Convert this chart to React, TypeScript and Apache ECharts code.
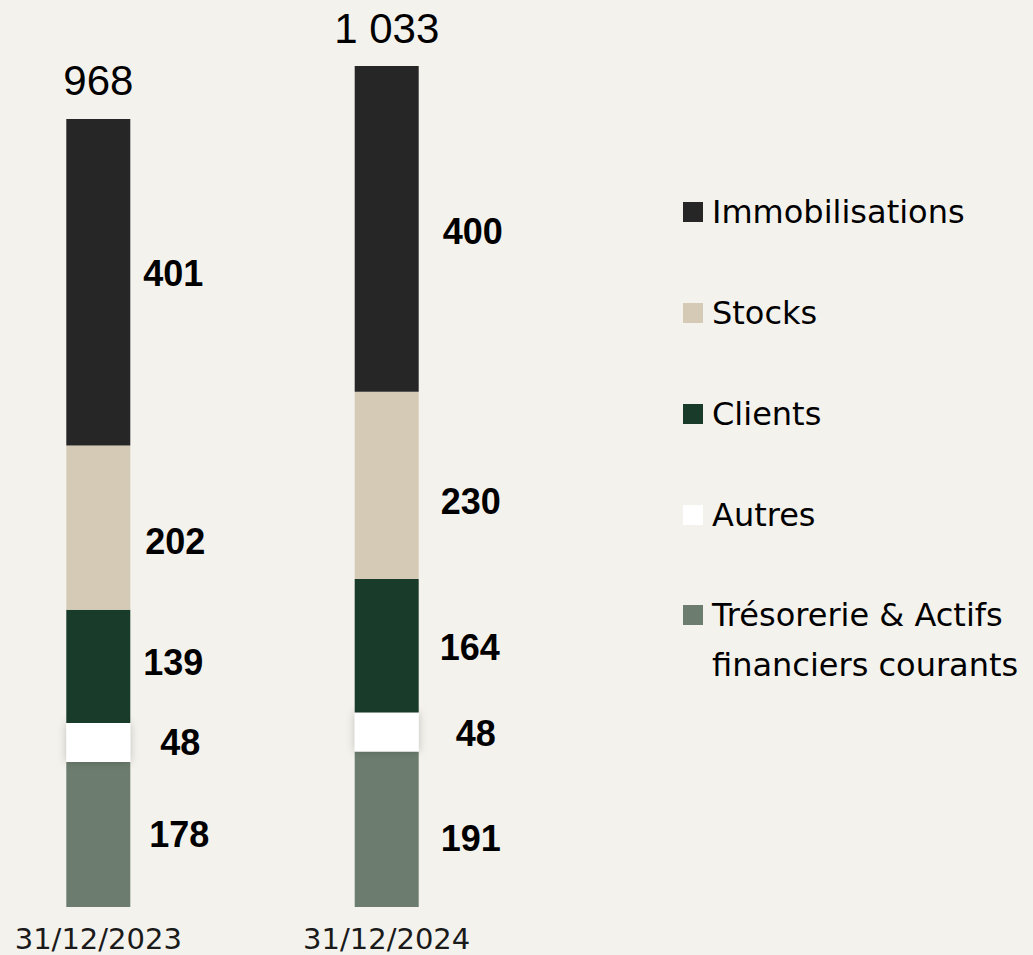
import React, { useEffect, useRef } from "react";
import * as echarts from "echarts";

const categories = ["31/12/2023", "31/12/2024"];
const seriesNames = [
  "Immobilisations",
  "Stocks",
  "Clients",
  "Autres",
  "Trésorerie & Actifs financiers courants",
];
const immobilisations = [401, 400];
const stocks = [202, 230];
const clients = [139, 164];
const autres = [48, 48];
const tresorerie = [178, 191];

// stacking order: bottom to top
const stackOrder = [tresorerie, autres, clients, stocks, immobilisations];
const stackNames = [seriesNames[4], seriesNames[3], seriesNames[2], seriesNames[1], seriesNames[0]];
const colors: Record<string, string> = {
  [seriesNames[0]]: "#262626",
  [seriesNames[1]]: "#D4CAB6",
  [seriesNames[2]]: "#193B29",
  [seriesNames[3]]: "#FFFFFF",
  [seriesNames[4]]: "#6C7D6F",
};
// label nudges (style only): [bar1, bar2]
const labelDx: Record<string, number[]> = {
  [seriesNames[0]]: [107, 118],
  [seriesNames[1]]: [109, 116],
  [seriesNames[2]]: [107, 115],
  [seriesNames[3]]: [114, 121],
  [seriesNames[4]]: [113, 116],
};
const labelDy: Record<string, number[]> = {
  [seriesNames[0]]: [-9, 3],
  [seriesNames[1]]: [14, 16],
  [seriesNames[2]]: [-4, 2],
  [seriesNames[3]]: [0, 2],
  [seriesNames[4]]: [0, 9],
};

const totals = categories.map((_, i) => stackOrder.reduce((s, arr) => s + arr[i], 0));
const fmt = (n: number) =>
  n >= 1000 ? `${Math.floor(n / 1000)} ${String(n % 1000).padStart(3, "0")}` : String(n);

export default function App() {
  const ref = useRef<HTMLDivElement>(null);
  useEffect(() => {
    if (!ref.current) return;
    const chart = echarts.init(ref.current, null, { renderer: "svg" });
    const barSeries = stackOrder.map((arr, si) => {
      const name = stackNames[si];
      return {
        name,
        type: "bar",
        stack: "total",
        barWidth: 64,
        itemStyle: {
          color: colors[name],
          ...(name === seriesNames[3]
            ? { shadowBlur: 8, shadowColor: "rgba(0,0,0,0.22)" }
            : {}),
        },
        data: arr.map((v, i) => ({
          value: v,
          label: {
            position: [labelDx[name][i], "50%"],
            offset: [0, labelDy[name][i]],
          },
        })),
        label: {
          show: true,
          align: "center",
          verticalAlign: "middle",
          fontFamily: "Liberation Sans, Arial, sans-serif",
          fontWeight: "bold",
          fontSize: 36,
          color: "#000",
        },
      };
    });
    const totalSeries = {
      name: "Total",
      type: "bar",
      stack: "total",
      barWidth: 64,
      itemStyle: { color: "transparent" },
      data: totals.map(() => 0),
      label: {
        show: true,
        position: "top",
        distance: 17,
        fontFamily: "Liberation Sans, Arial, sans-serif",
        fontSize: 42,
        lineHeight: 42,
        color: "#000",
        formatter: (p: any) => fmt(totals[p.dataIndex]),
      },
    };
    const legendText = {
      fontFamily: "DejaVu Sans, sans-serif",
      fontSize: 32,
      color: "#000",
      padding: [0, 0, 0, 4],
    };
    chart.setOption({
      animation: false,
      backgroundColor: "#F4F2ED",
      grid: { left: 98.3, width: 288.4, top: 11.5, bottom: 48 },
      xAxis: {
        type: "category",
        data: categories,
        boundaryGap: false,
        axisLine: { show: false },
        axisTick: { show: false },
        axisLabel: {
          margin: 17,
          fontFamily: "DejaVu Sans, sans-serif",
          fontSize: 29,
          color: "#1a1a1a",
        },
      },
      yAxis: { type: "value", min: 0, max: 1100, show: false, splitLine: { show: false } },
      legend: [
        {
          orient: "vertical",
          left: 683,
          top: 192,
          padding: 0,
          itemWidth: 20,
          itemHeight: 20,
          itemGap: 61,
          icon: "rect",
          selectedMode: false,
          data: seriesNames.slice(0, 4),
          textStyle: { ...legendText, lineHeight: 40 },
        },
        {
          orient: "vertical",
          left: 683,
          top: 540,
          padding: 0,
          itemWidth: 20,
          itemHeight: 20,
          icon: "rect",
          selectedMode: false,
          data: [seriesNames[4]],
          formatter: () => "\nTrésorerie & Actifs\nfinanciers courants",
          textStyle: { ...legendText, lineHeight: 50 },
        },
      ],
      series: [...barSeries, totalSeries],
    });
    return () => chart.dispose();
  }, []);
  return (
    <div
      ref={ref}
      style={{ position: "fixed", left: 0, top: 0, width: 1033, height: 955 }}
    />
  );
}
